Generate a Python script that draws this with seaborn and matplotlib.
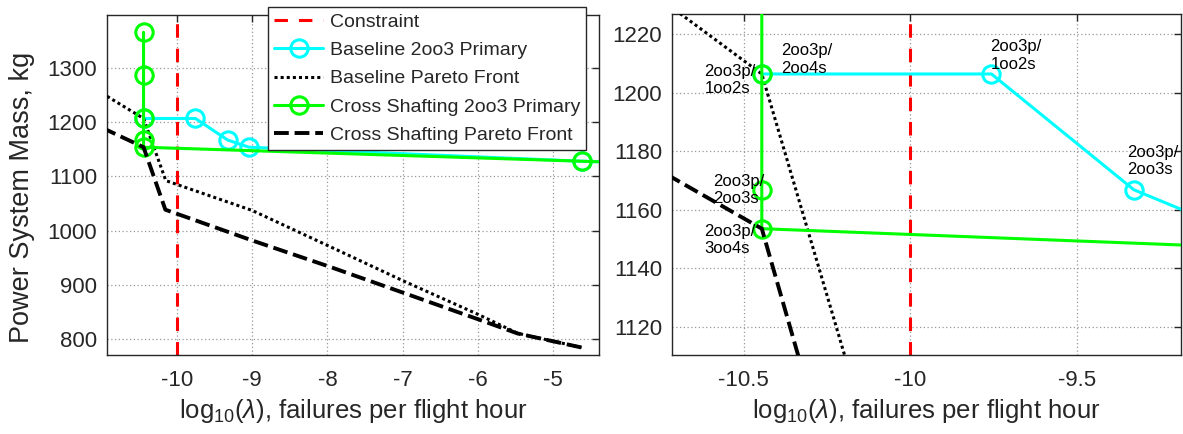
import matplotlib
matplotlib.use('Agg')
import matplotlib.pyplot as plt
import seaborn as sns

# reliability constraint, log10(failures per flight hour)
constraint_x = -10.0

# Baseline 2oo3 primary designs
base_x = [-10.446, -9.756, -9.328, -9.045, -4.62, -3.9]
base_y = [1206.4, 1206.4, 1166.8, 1153.5, 1127.7, 1124.5]

# Cross shafting 2oo3 primary designs
cross_x = [-10.446, -10.446, -10.446, -10.446, -10.446, -4.62, -3.9]
cross_y = [1365.0, 1286.0, 1206.4, 1166.8, 1153.5, 1127.7, 1124.5]

# Pareto fronts
base_pf_x = [-11.0, -10.446, -10.15, -9.0, -7.95, -7.0, -6.0, -5.47, -4.62]
base_pf_y = [1253.0, 1206.4, 1092.0, 1037.0, 969.5, 908.0, 846.0, 811.0, 784.8]
cross_pf_x = [-11.0, -10.446, -10.156, -9.0, -7.95, -7.0, -6.0, -5.47, -4.62]
cross_pf_y = [1189.5, 1153.5, 1038.5, 981.8, 932.5, 886.0, 837.0, 810.6, 784.8]

# labels on the zoomed panel
ann_text = ['2oo3p/\n2oo4s', '2oo3p/\n1oo2s', '2oo3p/\n1oo2s',
            '2oo3p/\n2oo3s', '2oo3p/\n2oo3s', '2oo3p/\n3oo4s']
ann_x = [-10.388, -10.618, -9.759, -9.348, -10.593, -10.62]
ann_y = [1211.4, 1204.3, 1212.7, 1176.6, 1166.8, 1149.7]

left_xticks = [-10, -9, -8, -7, -6, -5]
left_yticks = [800, 900, 1000, 1100, 1200, 1300]
right_xticks = [-10.5, -10, -9.5]
right_yticks = [1120, 1140, 1160, 1180, 1200, 1220]

sns.set_style('white')
plt.rcParams['font.family'] = ['Liberation Sans', 'DejaVu Sans']
plt.rcParams['mathtext.fontset'] = 'custom'
plt.rcParams['mathtext.rm'] = 'Liberation Sans'
plt.rcParams['mathtext.it'] = 'Liberation Sans:italic'
plt.rcParams['axes.unicode_minus'] = False

DARK = '#262626'


def draw_panel(ax):
    ax.axvline(constraint_x, color='red', lw=2.2, ls=(0, (4.4, 3.6)),
               label='Constraint', zorder=2)
    sns.lineplot(x=base_x, y=base_y, ax=ax, sort=False, estimator=None,
                 color='cyan', linewidth=2.2, marker='o', markersize=12.5,
                 markerfacecolor='none', markeredgecolor='cyan',
                 markeredgewidth=2.2, label='Baseline 2oo3 Primary', zorder=3)
    sns.lineplot(x=base_pf_x, y=base_pf_y, ax=ax, sort=False, estimator=None,
                 color='black', linewidth=2.2, linestyle=(0, (1, 1)),
                 label='Baseline Pareto Front', zorder=4)
    sns.lineplot(x=cross_x, y=cross_y, ax=ax, sort=False, estimator=None,
                 color='#00FF00', linewidth=2.2, marker='o', markersize=12.5,
                 markerfacecolor='none', markeredgecolor='#00FF00',
                 markeredgewidth=2.2, label='Cross Shafting 2oo3 Primary', zorder=5)
    sns.lineplot(x=cross_pf_x, y=cross_pf_y, ax=ax, sort=False, estimator=None,
                 color='black', linewidth=2.8, linestyle=(0, (3.8, 1.5)),
                 label='Cross Shafting Pareto Front', zorder=6)
    if ax.get_legend() is not None:
        ax.get_legend().remove()

    ax.grid(True, color='0.6', lw=0.9, ls=(0, (1, 2)))
    ax.set_axisbelow(True)
    for sp in ax.spines.values():
        sp.set_color(DARK)
        sp.set_linewidth(1.0)
    ax.tick_params(direction='in', length=5, width=1, top=True, right=True,
                   labelsize=16, color=DARK, labelcolor=DARK)
    ax.tick_params(axis='x', pad=11)
    ax.tick_params(axis='y', pad=7)
    ax.set_xlabel(r'log$_{10}$($\lambda$), failures per flight hour',
                  fontsize=18.5, color=DARK, labelpad=4)
    ax.set_ylabel('')


fig = plt.figure(figsize=(11.83, 4.34), dpi=100)
ax1 = fig.add_axes([0.0904, 0.182, 0.416, 0.783])
ax2 = fig.add_axes([0.568, 0.182, 0.4307, 0.785])

draw_panel(ax1)
ax1.set_xlim(-10.933, -4.387)
ax1.set_ylim(771, 1396.5)
ax1.set_xticks(left_xticks, [str(v) for v in left_xticks])
ax1.set_yticks(left_yticks, [str(v) for v in left_yticks])
ax1.set_ylabel('Power System Mass, kg', fontsize=19.5, color=DARK)
ax1.yaxis.set_label_coords(-0.146, 0.465)

draw_panel(ax2)
ax2.set_xlim(-10.716, -9.185)
ax2.set_ylim(1110.3, 1226.8)
ax2.set_xticks(right_xticks, [f'{v:g}' for v in right_xticks])
ax2.set_yticks(right_yticks, [str(v) for v in right_yticks])
for t, x, y in zip(ann_text, ann_x, ann_y):
    ax2.text(x, y, t, fontsize=12, ha='left', va='center', color='black',
             linespacing=1.2, zorder=7)

handles, labels = ax1.get_legend_handles_labels()
leg = fig.legend(handles, labels, loc='upper right',
                 bbox_to_anchor=(0.4953, 0.9832), fontsize=14, frameon=True,
                 fancybox=False, framealpha=1, edgecolor=DARK, borderpad=0.3,
                 handlelength=2.5, handletextpad=0.35, labelspacing=0.55,
                 borderaxespad=0)
leg.get_frame().set_linewidth(1.0)

fig.savefig('out.png', dpi=100)
